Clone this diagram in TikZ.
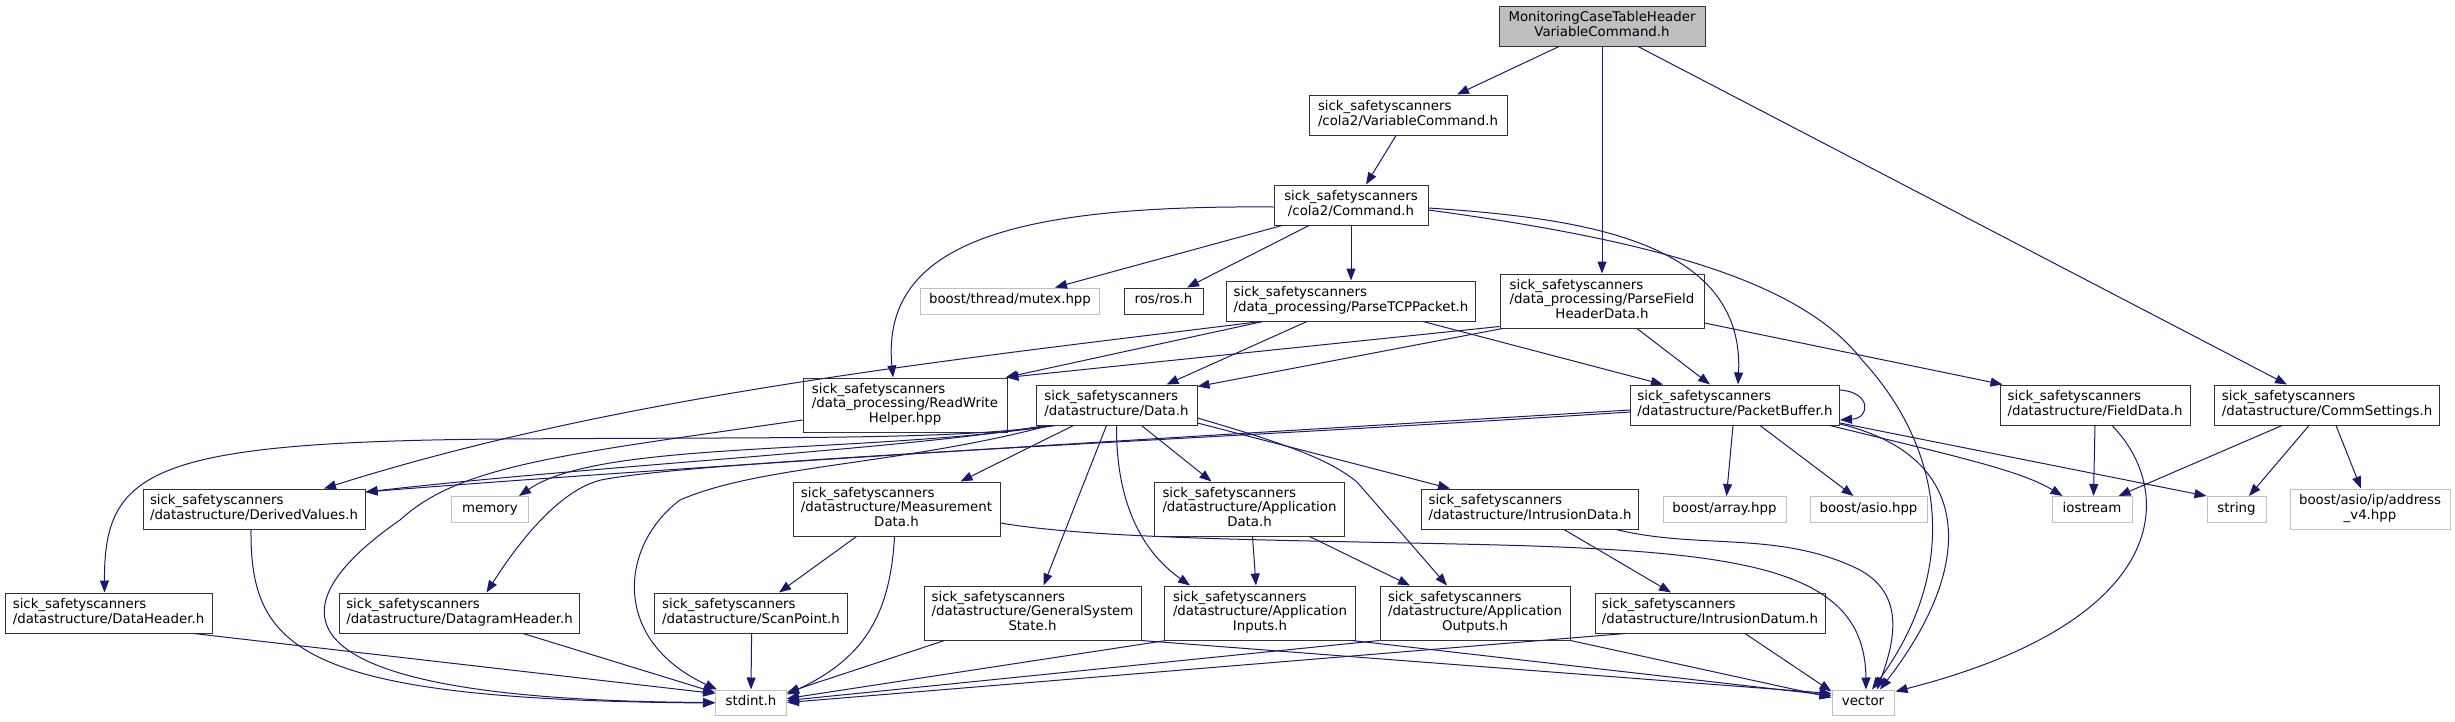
\documentclass[tikz,border=0pt]{standalone}
\usepackage{fontspec}
\setmainfont{DejaVu Sans}
\usetikzlibrary{arrows.meta,calc}
\definecolor{edgec}{HTML}{191970}
\definecolor{extc}{HTML}{BFBFBF}
\definecolor{topfill}{HTML}{BFBFBF}
\newcommand\labtwo[2]{\begin{tabular}{@{}l@{}}#1\\\multicolumn{1}{@{}c@{}}{#2}\end{tabular}}
\newcommand\labthree[3]{\begin{tabular}{@{}l@{}}#1\\#2\\\multicolumn{1}{@{}c@{}}{#3}\end{tabular}}
\newcommand\onel[1]{\begin{tabular}{@{}c@{}}#1\end{tabular}}
\tikzset{
  box/.style={draw=black!80, line width=1pt, fill=white, inner sep=0pt, font=\fontsize{13.333pt}{14pt}\selectfont},
  ext/.style={box, draw=extc},
  sz/.style 2 args={minimum width=#1pt, minimum height=#2pt},
  edg/.style={draw=edgec, line width=1pt, -{Triangle[length=12pt,width=9pt]}},
}
\begin{document}
\begin{tikzpicture}[x=1pt,y=-1pt]
\fill[white] (0,0) rectangle (2455,721);
\useasboundingbox (0,0) rectangle (2455,721);
% nodes
\node[box, fill=topfill, sz={206}{40}] (top) at (1602,26) {\labtwo{MonitoringCaseTableHeader}{VariableCommand.h}};
\node[box, sz={198}{40}] (vc) at (1408,115) {\labtwo{sick\_safetyscanners}{/cola2/VariableCommand.h}};
\node[box, sz={154}{40}] (cmd) at (1351,205) {\labtwo{sick\_safetyscanners}{/cola2/Command.h}};
\node[ext, sz={179}{26}] (mutex) at (1010,301) {\onel{boost/thread/mutex.hpp}};
\node[box, sz={79}{26}] (ros) at (1163.5,301) {\onel{ros/ros.h}};
\node[box, sz={249}{40}] (ptcp) at (1351,301) {\labtwo{sick\_safetyscanners}{/data\_processing/ParseTCPPacket.h}};
\node[box, sz={204}{54}] (pfhd) at (1602,301) {\labthree{sick\_safetyscanners}{/data\_processing/ParseField}{HeaderData.h}};
\node[box, sz={204}{54}] (rwh) at (905,405) {\labthree{sick\_safetyscanners}{/data\_processing/ReadWrite}{Helper.hpp}};
\node[box, sz={161}{40}] (data) at (1116.5,405) {\labtwo{sick\_safetyscanners}{/datastructure/Data.h}};
\node[box, sz={209}{40}] (pb) at (1735,405) {\labtwo{sick\_safetyscanners}{/datastructure/PacketBuffer.h}};
\node[box, sz={190}{40}] (field) at (2095,405) {\labtwo{sick\_safetyscanners}{/datastructure/FieldData.h}};
\node[box, sz={225}{40}] (comm) at (2327,405) {\labtwo{sick\_safetyscanners}{/datastructure/CommSettings.h}};
\node[box, sz={222}{40}] (derived) at (254,509) {\labtwo{sick\_safetyscanners}{/datastructure/DerivedValues.h}};
\node[ext, sz={77}{26}] (memory) at (490,509.5) {\onel{memory}};
\node[box, sz={207}{54}] (meas) at (896.5,509) {\labthree{sick\_safetyscanners}{/datastructure/Measurement}{Data.h}};
\node[box, sz={190}{54}] (appdata) at (1249.5,509) {\labthree{sick\_safetyscanners}{/datastructure/Application}{Data.h}};
\node[box, sz={217}{40}] (intrdata) at (1530,509) {\labtwo{sick\_safetyscanners}{/datastructure/IntrusionData.h}};
\node[ext, sz={123}{26}] (array) at (1724.5,509.5) {\onel{boost/array.hpp}};
\node[ext, sz={117}{26}] (asio) at (1868.5,509.5) {\onel{boost/asio.hpp}};
\node[ext, sz={80}{26}] (iostream) at (2092,509.5) {\onel{iostream}};
\node[ext, sz={59}{26}] (string) at (2236.5,509.5) {\onel{string}};
\node[ext, sz={160}{40}] (addr) at (2370,509) {\begin{tabular}{@{}c@{}}boost/asio/ip/address\\\_v4.hpp\end{tabular}};
\node[box, sz={207}{40}] (dataheader) at (108.5,613) {\labtwo{sick\_safetyscanners}{/datastructure/DataHeader.h}};
\node[box, sz={240}{40}] (dgram) at (459.5,613) {\labtwo{sick\_safetyscanners}{/datastructure/DatagramHeader.h}};
\node[box, sz={193}{40}] (scan) at (751,613) {\labtwo{sick\_safetyscanners}{/datastructure/ScanPoint.h}};
\node[box, sz={217}{54}] (gss) at (1032.5,613) {\labthree{sick\_safetyscanners}{/datastructure/GeneralSystem}{State.h}};
\node[box, sz={191}{54}] (ain) at (1260,613) {\labthree{sick\_safetyscanners}{/datastructure/Application}{Inputs.h}};
\node[box, sz={190}{54}] (aout) at (1475,613) {\labthree{sick\_safetyscanners}{/datastructure/Application}{Outputs.h}};
\node[box, sz={230}{40}] (idatum) at (1710,613) {\labtwo{sick\_safetyscanners}{/datastructure/IntrusionDatum.h}};
\node[ext, sz={71}{25}] (stdint) at (751,702.5) {\onel{stdint.h}};
\node[ext, sz={62}{25}] (vector) at (1863,702.5) {\onel{vector}};
% edges
\draw[edg] ($(top.south)+(-43,0)$) -- ($(vc.north)+(49,0)$);
\draw[edg] (top.south) -- (pfhd.north);
\draw[edg] ($(top.south)+(36,0)$) -- ($(comm.north)+(-40,0)$);
\draw[edg] ($(vc.south)+(-12,0)$) -- ($(cmd.north)+(15,0)$);
\draw[edg] ($(cmd.west)+(0,2)$) .. controls (1020,205) and (880,240) .. ($(rwh.north)+(-12,0)$);
\draw[edg] ($(cmd.south)+(-69,0)$) -- ($(mutex.north)+(45,0)$);
\draw[edg] ($(cmd.south)+(-42,0)$) -- ($(ros.north)+(23.5,0)$);
\draw[edg] (cmd.south) -- (ptcp.north);
\draw[edg] ($(cmd.east)+(0,3)$) .. controls (1580,218) and (1745,240) .. ($(pb.north)+(3,0)$);
\draw[edg] ($(cmd.east)+(0,5)$) .. controls (1650,240) and (1800,280) .. (1862,360) .. controls (1945,450) and (1960,570) .. ($(vector.north)+(9,0)$);
\draw[edg] ($(ptcp.south west)+(37,0)$) -- ($(rwh.north east)+(-2,0)$);
\draw[edg] ($(ptcp.south west)+(35,0)$) .. controls (950,360) and (620,395) .. ($(derived.north)+(70,0)$);
\draw[edg] ($(ptcp.south)+(-44,0)$) -- ($(data.north)+(50,0)$);
\draw[edg] ($(ptcp.south)+(72,0)$) -- ($(pb.north)+(-72,0)$);
\draw[edg] ($(pfhd.south west)+(0,-2)$) -- ($(rwh.north east)+(-1,0)$);
\draw[edg] ($(pfhd.south west)+(3,0)$) -- ($(data.north east)+(0,2)$);
\draw[edg] ($(pfhd.south)+(35,0)$) -- ($(pb.north)+(-25,0)$);
\draw[edg] ($(pfhd.east)+(0,22)$) -- ($(field.north west)+(3,0)$);
\draw[edg] ($(rwh.west)+(0,15)$) .. controls (560,455) and (460,465) .. (400,520) .. controls (270,610) and (270,700) .. (stdint.west);
\draw[edg] ($(data.south west)+(18,0)$) .. controls (950,440) and (800,437) .. (500,439) .. controls (150,442) and (104,470) .. ($(dataheader.north)+(-4,0)$);
\draw[edg] ($(data.south west)+(20,0)$) .. controls (850,455) and (600,440) .. ($(memory.north east)+(-10,0)$);
\draw[edg] ($(data.south west)+(10,0)$) .. controls (900,450) and (600,465) .. ($(derived.east)+(0,-17)$);
\draw[edg] ($(data.south)+(-43,0)$) -- ($(meas.north)+(64,0)$);
\draw[edg] ($(data.south)+(-10,0)$) -- ($(gss.north)+(11,0)$);
\draw[edg] (data.south) .. controls (1116,500) and (1140,550) .. ($(ain.north)+(-70,0)$);
\draw[edg] ($(data.south)+(25,0)$) -- ($(appdata.north)+(-38,0)$);
\draw[edg] ($(data.east)+(0,13)$) .. controls (1290,445) and (1330,460) .. (1357,482) -- ($(aout.north)+(-28,0)$);
\draw[edg] ($(data.east)+(0,18)$) -- ($(intrdata.north)+(-80,0)$);
\draw[edg] ($(data.south west)+(14,0)$) .. controls (900,465) and (760,465) .. (680,500) .. controls (620,545) and (610,640) .. ($(stdint.north west)+(2,0)$);
\draw[edg] ($(pb.east)+(0,-15)$) .. controls (1871,392) and (1871,418) .. ($(pb.east)+(0,15)$);
\draw[edg] ($(pb.west)+(0,5)$) .. controls (1300,430) and (700,465) .. ($(derived.east)+(0,-17)$);
\draw[edg] ($(pb.west)+(0,7)$) .. controls (1200,440) and (700,460) .. (601,480) .. controls (560,490) and (520,540) .. ($(dgram.north)+(27,0)$);
\draw[edg] ($(pb.south)+(-2,0)$) -- ($(array.north)+(2,0)$);
\draw[edg] ($(pb.south)+(25,0)$) -- ($(asio.north)+(-15,0)$);
\draw[edg] ($(pb.south east)+(-10,0)$) .. controls (1950,455) and (2020,470) .. ($(iostream.north west)+(11,0)$);
\draw[edg] ($(pb.east)+(0,18)$) -- (string.north west);
\draw[edg] ($(pb.east)+(0,19)$) .. controls (1970,455) and (1980,560) .. ($(vector.north)+(17,0)$);
\draw[edg] (field.south) -- ($(iostream.north)+(1.5,0)$);
\draw[edg] ($(field.south)+(17,0)$) .. controls (2175,490) and (2175,620) .. ($(vector.north east)+(1,2)$);
\draw[edg] ($(comm.south)+(-45,0)$) -- ($(iostream.north east)+(-14,0)$);
\draw[edg] ($(comm.south)+(-18,0)$) -- ($(string.north)+(12.5,0)$);
\draw[edg] ($(comm.south)+(9,0)$) -- ($(addr.north)+(-9,0)$);
\draw[edg] ($(derived.south)+(-3,0)$) .. controls (250,650) and (300,700) .. ($(stdint.west)+(0,0.5)$);
\draw[edg] ($(meas.south)+(-40,0)$) -- ($(scan.north)+(28,0)$);
\draw[edg] ($(meas.south)+(-2,0)$) .. controls (890,620) and (860,660) .. ($(stdint.east)+(0,-8)$);
\draw[edg] ($(meas.east)+(0,14)$) .. controls (1100,540) and (1300,540) .. (1500,545) .. controls (1750,552) and (1865,570) .. ($(vector.north)+(3,0)$);
\draw[edg] ($(appdata.south)+(3,0)$) -- ($(ain.north)+(-4,0)$);
\draw[edg] ($(appdata.south)+(60,0)$) -- ($(aout.north)+(-65,0)$);
\draw[edg] ($(intrdata.south)+(34,0)$) -- ($(idatum.north)+(-39,0)$);
\draw[edg] ($(intrdata.south)+(86,0)$) .. controls (1700,550) and (1780,530) .. (1860,570) .. controls (1905,595) and (1895,640) .. ($(vector.north)+(14,0)$);
\draw[edg] ($(dataheader.south)+(85,0)$) -- ($(stdint.west)+(0,-9)$);
\draw[edg] ($(dgram.south)+(63.5,0)$) -- ($(stdint.west)+(0,-10)$);
\draw[edg] ($(scan.south)+(0.6,0)$) -- (stdint.north);
\draw[edg] ($(gss.south west)+(21,0)$) -- ($(stdint.east)+(0,-10)$);
\draw[edg] (gss.south east) -- ($(vector.west)+(0,-9)$);
\draw[edg] ($(ain.south west)+(2,0)$) -- ($(stdint.east)+(0,-4)$);
\draw[edg] ($(ain.south east)+(-4,0)$) -- ($(vector.west)+(0,-7)$);
\draw[edg] (aout.south west) -- ($(stdint.east)+(0,-2)$);
\draw[edg] (aout.south east) -- ($(vector.west)+(0,-5)$);
\draw[edg] ($(idatum.south west)+(31,0)$) -- (stdint.east);
\draw[edg] ($(idatum.south)+(35,0)$) -- ($(vector.north west)+(0,2)$);
\end{tikzpicture}
\end{document}
